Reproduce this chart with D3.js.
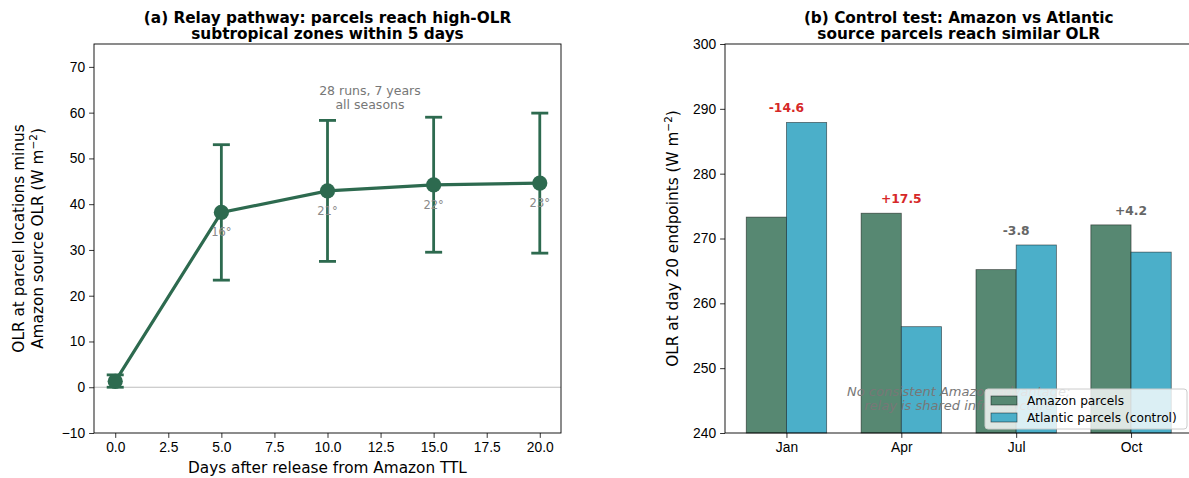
<!DOCTYPE html>
<html>
<head>
<meta charset="utf-8">
<script src="https://cdn.jsdelivr.net/npm/d3@7"></script>
<style>
  body { margin: 0; background: #fff; }
  svg { display: block; font-family: 'DejaVu Sans', sans-serif; }
  .tick text { font-size: 13.8px; fill: #000; }
  .tick line { stroke: #000; stroke-width: 0.8; }
</style>
</head>
<body>
<div id="chart"></div>
<script>
// panel (a) data
const days = [0, 5, 10, 15, 20]
const olrAnomaly = [1.3, 38.2, 42.9, 44.2, 44.6]
const errLow = [0.0, 23.4, 27.5, 29.5, 29.3]
const errHigh = [2.7, 53.0, 58.3, 59.0, 59.9]
const latLabels = ['', '16°', '21°', '22°', '23°']
const dayTicks = [0, 2.5, 5, 7.5, 10, 12.5, 15, 17.5, 20]
const anomTicks = [-10, 0, 10, 20, 30, 40, 50, 60, 70]

// panel (b) data
const months = ['Jan', 'Apr', 'Jul', 'Oct']
const amazonOLR = [273.3, 273.9, 265.2, 272.1]
const atlanticOLR = [287.9, 256.4, 269.0, 267.9]
const olrTicks = [240, 250, 260, 270, 280, 290, 300]

const green = '#2d6a4f'
const barGreen = '#578872'
const barBlue = '#4bafc9'

const width = 1189
const height = 478

const svg = d3
  .select('#chart')
  .append('svg')
  .attr('width', width)
  .attr('height', height)

/* ---------- panel (a) ---------- */
const a = { left: 94, right: 561, top: 44, bottom: 433 }

const xA = d3.scaleLinear().domain([-1, 21]).range([a.left, a.right])
const yA = d3.scaleLinear().domain([-10, 75]).range([a.bottom, a.top])

const gA = svg.append('g')

gA.append('line')
  .attr('x1', a.left)
  .attr('x2', a.right)
  .attr('y1', yA(0))
  .attr('y2', yA(0))
  .attr('stroke', '#bdbdbd')
  .attr('stroke-width', 1)

gA.append('g')
  .attr('transform', 'translate(0,' + a.bottom + ')')
  .call(d3.axisBottom(xA).tickValues(dayTicks).tickFormat(d3.format('.1f')).tickSizeOuter(0).tickSize(4.9).tickPadding(4))
  .call(g => g.select('.domain').remove())

gA.append('g')
  .attr('transform', 'translate(' + a.left + ',0)')
  .call(d3.axisLeft(yA).tickValues(anomTicks).tickFormat(d => d < 0 ? '\u2212' + Math.abs(d) : d).tickSizeOuter(0).tickSize(4.9).tickPadding(4))
  .call(g => g.select('.domain').remove())

gA.append('rect')
  .attr('x', a.left)
  .attr('y', a.top)
  .attr('width', a.right - a.left)
  .attr('height', a.bottom - a.top)
  .attr('fill', 'none')
  .attr('stroke', '#000')
  .attr('stroke-width', 0.9)

// error bars
const errG = gA.selectAll('.err')
  .data(days)
  .enter()
  .append('g')
  .attr('class', 'err')

errG.append('line')
  .attr('x1', d => xA(d))
  .attr('x2', d => xA(d))
  .attr('y1', (d, i) => yA(errLow[i]))
  .attr('y2', (d, i) => yA(errHigh[i]))
  .attr('stroke', green)
  .attr('stroke-width', 2.8)

errG.selectAll('.cap')
  .data((d, i) => [[d, errLow[i]], [d, errHigh[i]]])
  .enter()
  .append('line')
  .attr('x1', d => xA(d[0]) - 8.5)
  .attr('x2', d => xA(d[0]) + 8.5)
  .attr('y1', d => yA(d[1]))
  .attr('y2', d => yA(d[1]))
  .attr('stroke', green)
  .attr('stroke-width', 2.8)

const line = d3.line()
  .x(d => xA(d[0]))
  .y(d => yA(d[1]))

gA.append('path')
  .datum(days.map((d, i) => [d, olrAnomaly[i]]))
  .attr('d', line)
  .attr('fill', 'none')
  .attr('stroke', green)
  .attr('stroke-width', 3.2)

gA.selectAll('.pt')
  .data(days)
  .enter()
  .append('circle')
  .attr('cx', d => xA(d))
  .attr('cy', (d, i) => yA(olrAnomaly[i]))
  .attr('r', 7.6)
  .attr('fill', green)

gA.selectAll('.lat')
  .data(days)
  .enter()
  .append('text')
  .attr('x', d => xA(d))
  .attr('y', (d, i) => yA(olrAnomaly[i]) + 24)
  .attr('text-anchor', 'middle')
  .attr('font-size', 11.5)
  .attr('fill', '#8a8a8a')
  .text((d, i) => latLabels[i])

gA.append('text')
  .attr('x', xA(12))
  .attr('text-anchor', 'middle')
  .attr('font-size', 12.5)
  .attr('fill', '#777')
  .selectAll('tspan')
  .data(['28 runs, 7 years', 'all seasons'])
  .enter()
  .append('tspan')
  .attr('x', xA(12))
  .attr('y', (d, i) => 95 + i * 13.5)
  .text(d => d)

gA.append('text')
  .attr('text-anchor', 'middle')
  .attr('font-size', 15.3)
  .attr('font-weight', 'bold')
  .selectAll('tspan')
  .data(['(a) Relay pathway: parcels reach high-OLR', 'subtropical zones within 5 days'])
  .enter()
  .append('tspan')
  .attr('x', (a.left + a.right) / 2)
  .attr('y', (d, i) => 22.5 + i * 16.5)
  .text(d => d)

gA.append('text')
  .attr('x', (a.left + a.right) / 2)
  .attr('y', 472.5)
  .attr('text-anchor', 'middle')
  .attr('font-size', 15.3)
  .text('Days after release from Amazon TTL')

const ylabA = gA.append('text')
  .attr('transform', 'translate(0,' + (a.top + a.bottom) / 2 + ') rotate(-90)')
  .attr('text-anchor', 'middle')
  .attr('font-size', 15.3)
ylabA.append('tspan').attr('x', 0).attr('y', 23.5).text('OLR at parcel locations minus')
const l2 = ylabA.append('tspan').attr('x', 0).attr('y', 42.5).text('Amazon source OLR (W m')
l2.append('tspan').attr('dy', -6).attr('font-size', 10.5).text('\u22122')
l2.append('tspan').attr('dy', 6).text(')')

/* ---------- panel (b) ---------- */
const b = { left: 725, right: 1192.5, top: 44, bottom: 433 }
const barW = 0.35

const xB = d3.scaleLinear().domain([-0.535, 3.535]).range([b.left, b.right])
const yB = d3.scaleLinear().domain([240, 300]).range([b.bottom, b.top])

const gB = svg.append('g')

gB.selectAll('.amz')
  .data(months)
  .enter()
  .append('rect')
  .attr('x', (d, i) => xB(i - barW))
  .attr('y', (d, i) => yB(amazonOLR[i]))
  .attr('width', (d, i) => xB(i) - xB(i - barW))
  .attr('height', (d, i) => yB(240) - yB(amazonOLR[i]))
  .attr('fill', barGreen)
  .attr('stroke', 'rgba(0,0,0,0.55)')
  .attr('stroke-width', 0.8)

gB.selectAll('.atl')
  .data(months)
  .enter()
  .append('rect')
  .attr('x', (d, i) => xB(i))
  .attr('y', (d, i) => yB(atlanticOLR[i]))
  .attr('width', (d, i) => xB(i + barW) - xB(i))
  .attr('height', (d, i) => yB(240) - yB(atlanticOLR[i]))
  .attr('fill', barBlue)
  .attr('stroke', 'rgba(0,0,0,0.55)')
  .attr('stroke-width', 0.8)

gB.selectAll('.diff')
  .data(months)
  .enter()
  .append('text')
  .attr('x', (d, i) => xB(i))
  .attr('y', (d, i) => yB(Math.max(amazonOLR[i], atlanticOLR[i]) + 1.6))
  .attr('text-anchor', 'middle')
  .attr('font-size', 12.3)
  .attr('font-weight', 'bold')
  .attr('fill', (d, i) => Math.abs(amazonOLR[i] - atlanticOLR[i]) > 10 ? '#d62828' : '#666')
  .text((d, i) => {
    const v = Math.round((amazonOLR[i] - atlanticOLR[i]) * 10) / 10
    return (v > 0 ? '+' : '') + v.toFixed(1)
  })

gB.append('text')
  .attr('text-anchor', 'middle')
  .attr('font-size', 13)
  .attr('font-style', 'italic')
  .attr('fill', '#777')
  .selectAll('tspan')
  .data(['No consistent Amazon advantage;', 'relay is shared infrastructure'])
  .enter()
  .append('tspan')
  .attr('x', xB(1.5))
  .attr('y', (d, i) => 396 + i * 14)
  .text(d => d)

gB.append('g')
  .attr('transform', 'translate(0,' + b.bottom + ')')
  .call(d3.axisBottom(xB).tickValues([0, 1, 2, 3]).tickFormat(i => months[i]).tickSizeOuter(0).tickSize(4.9).tickPadding(4))
  .call(g => g.select('.domain').remove())

gB.append('g')
  .attr('transform', 'translate(' + b.left + ',0)')
  .call(d3.axisLeft(yB).tickValues(olrTicks).tickSizeOuter(0).tickSize(4.9).tickPadding(4))
  .call(g => g.select('.domain').remove())

gB.append('rect')
  .attr('x', b.left)
  .attr('y', b.top)
  .attr('width', b.right - b.left)
  .attr('height', b.bottom - b.top)
  .attr('fill', 'none')
  .attr('stroke', '#000')
  .attr('stroke-width', 0.9)

// legend
const leg = gB.append('g').attr('transform', 'translate(985,389)')
leg.append('rect')
  .attr('width', 202)
  .attr('height', 40)
  .attr('rx', 3)
  .attr('fill', 'rgba(255,255,255,0.8)')
  .attr('stroke', '#ccc')
  .attr('stroke-width', 1)

const legItems = [['Amazon parcels', barGreen], ['Atlantic parcels (control)', barBlue]]
const legRow = leg.selectAll('.row')
  .data(legItems)
  .enter()
  .append('g')
  .attr('transform', (d, i) => 'translate(6,' + (7 + i * 17) + ')')
legRow.append('rect')
  .attr('width', 26)
  .attr('height', 9)
  .attr('fill', d => d[1])
  .attr('stroke', 'rgba(0,0,0,0.55)')
  .attr('stroke-width', 0.8)
legRow.append('text')
  .attr('x', 36)
  .attr('y', 9)
  .attr('font-size', 12.2)
  .text(d => d[0])

gB.append('text')
  .attr('text-anchor', 'middle')
  .attr('font-size', 15.3)
  .attr('font-weight', 'bold')
  .selectAll('tspan')
  .data(['(b) Control test: Amazon vs Atlantic', 'source parcels reach similar OLR'])
  .enter()
  .append('tspan')
  .attr('x', (b.left + b.right) / 2)
  .attr('y', (d, i) => 22.5 + i * 16.5)
  .text(d => d)

const ylabB = gB.append('text')
  .attr('transform', 'translate(677.5,' + (b.top + b.bottom) / 2 + ') rotate(-90)')
  .attr('text-anchor', 'middle')
  .attr('font-size', 15.3)
ylabB.append('tspan').text('OLR at day 20 endpoints (W m')
ylabB.append('tspan').attr('dy', -6).attr('font-size', 10.5).text('\u22122')
ylabB.append('tspan').attr('dy', 6).text(')')
</script>
</body>
</html>
